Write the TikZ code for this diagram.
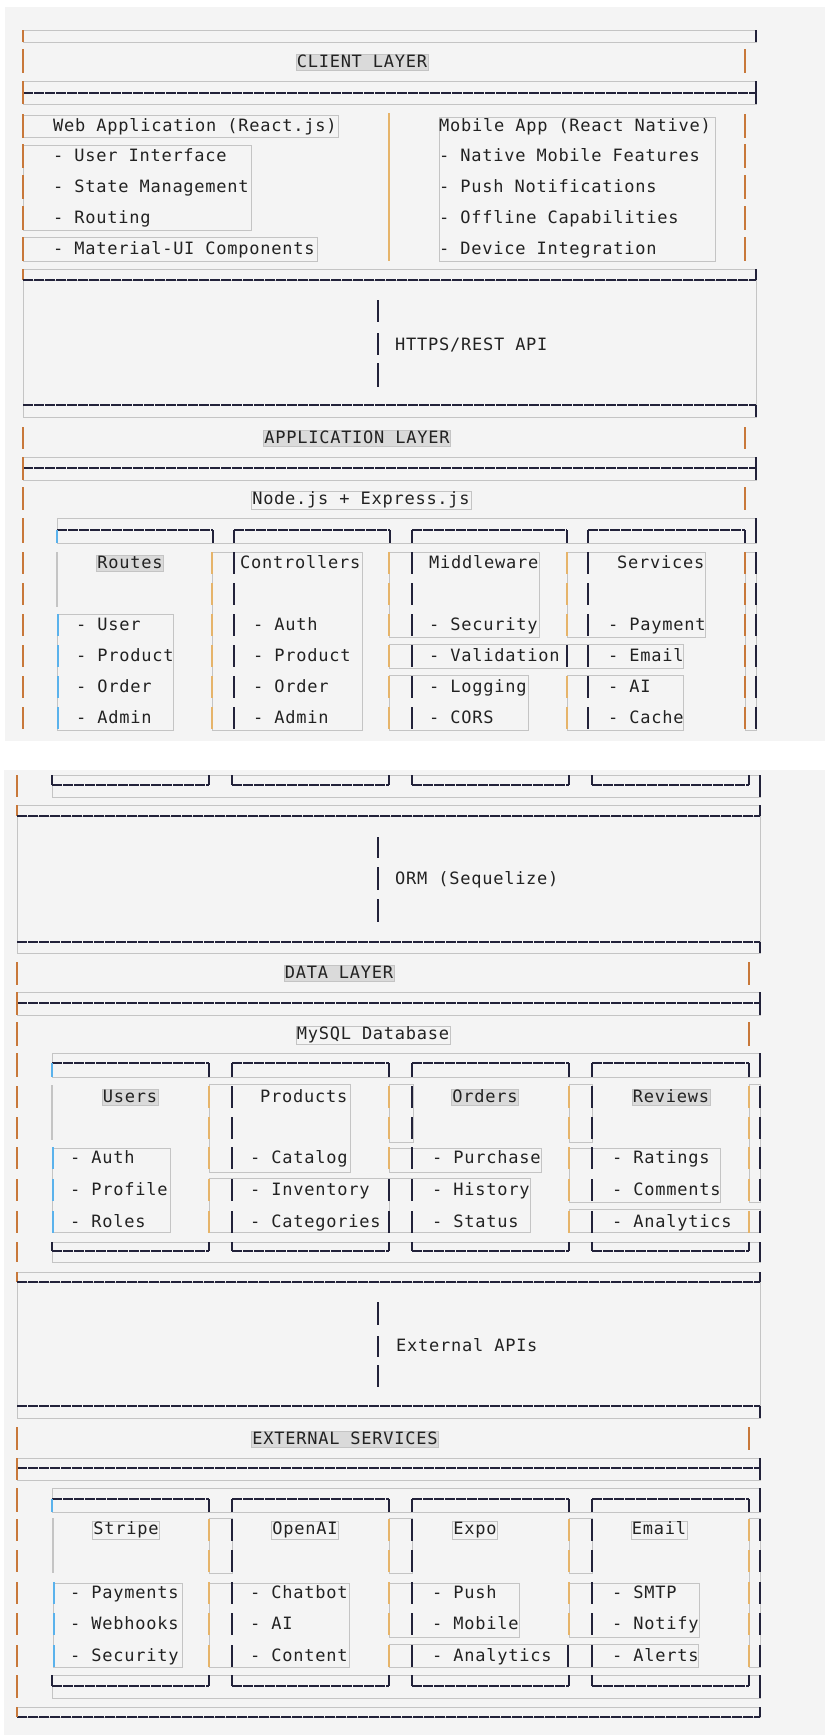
\documentclass[tikz,border=0pt]{standalone}
\usepackage{fontspec}
\setmonofont[LetterSpace=4.4]{DejaVu Sans Mono}
\usepackage{tikz}

\definecolor{panelgray}{HTML}{F4F4F4}
\definecolor{selgray}{HTML}{C4C4C4}
\definecolor{hlgray}{HTML}{DADADA}
\definecolor{rulenavy}{HTML}{22223A}
\definecolor{barorange}{HTML}{C8783A}
\definecolor{barlight}{HTML}{E6B46A}
\definecolor{barblue}{HTML}{5AB2EC}
\definecolor{inkgray}{HTML}{222222}

\begin{document}
\begin{tikzpicture}[x=1pt, y=-1pt]
\tikzstyle{panel} = [fill=panelgray]
\tikzstyle{sel} = [draw=selgray, line width=1pt]
\tikzstyle{rule} = [draw=rulenavy, line width=1.4pt, dash pattern=on 10.4pt off 0.6pt]
\tikzstyle{tick} = [draw=rulenavy, line width=1.6pt]
\tikzstyle{obar} = [draw=barorange, line width=2pt]
\tikzstyle{lbar} = [draw=barlight, line width=2pt]
\tikzstyle{bbar} = [draw=barblue, line width=1.6pt]
\tikzstyle{gbar} = [draw=selgray, line width=2pt]
\tikzstyle{txt} = [anchor=west, inner sep=0pt, text=inkgray, font=\ttfamily\fontsize{17}{20}\selectfont, text height=13pt, text depth=3pt]
\tikzstyle{head} = [txt, anchor=center, fill=hlgray, draw=selgray, inner sep=1pt, text height=12.5pt, text depth=2pt]
\tikzstyle{sub} = [txt, anchor=center, draw=selgray, inner sep=1pt, text height=12.5pt, text depth=3pt]

\useasboundingbox (0,0) rectangle (825,1735);
\path[panel] (5,7) rectangle (825,741);
\path[panel] (4,770) rectangle (825,1735);

% ---------- client layer
\draw[sel] (23,30) rectangle (756,42);
\draw[tick] (756,30) -- (756,42);
\draw[obar] (23,30) -- (23,42);
\draw[obar] (23,49) -- (23,73);
\draw[obar] (745,49) -- (745,73);
\node[head] (client) at (362,62) {CLIENT LAYER};
\draw[sel] (23,81) rectangle (756,104);
\draw[rule] (23,93) -- (756,93);
\draw[tick] (756,81) -- (756,104);
\draw[obar] (23,81) -- (23,104);

\draw[sel] (23,115) rectangle (338,137);
\draw[sel] (23,145) rectangle (251,230);
\draw[sel] (23,237) rectangle (317,261);
\draw[sel] (439,117) rectangle (715,261);
\foreach \y in {126,156,187,218,249} {
  \draw[obar] (23,{\y-12}) -- (23,{\y+12});
  \draw[obar] (745,{\y-12}) -- (745,{\y+12});
}
\draw[lbar] (389,113) -- (389,261);

\node[txt] (web) at (53,126) {Web Application (React.js)};
\foreach \y/\t/\n in {156/- User Interface/webui, 187/- State Management/webstate,
    218/- Routing/webroute, 249/- Material-UI Components/webmui}
  \node[txt] (\n) at (53,\y) {\t};
\node[txt] (mobile) at (439,126) {Mobile App (React Native)};
\foreach \y/\t/\n in {156/- Native Mobile Features/mobnative, 187/- Push Notifications/mobpush,
    218/- Offline Capabilities/moboffline, 249/- Device Integration/mobdevice}
  \node[txt] (\n) at (439,\y) {\t};

% ---------- https link
\draw[sel] (23,269) rectangle (756,280);
\draw[obar] (23,269) -- (23,280);
\draw[tick] (756,269) -- (756,280);
\draw[sel] (23,280) rectangle (756,417);
\draw[rule] (23,280) -- (756,280);
\draw[rule] (23,405) -- (756,405);
\draw[tick] (756,405) -- (756,417);
\draw[tick] (378,300) -- (378,322) (378,333) -- (378,355) (378,363) -- (378,387);
\node[txt] (https) at (395,345) {HTTPS/REST API};

% ---------- application layer
\draw[obar] (23,427) -- (23,449);
\draw[obar] (745,427) -- (745,449);
\node[head] (applayer) at (357,438) {APPLICATION LAYER};
\draw[sel] (23,457) rectangle (756,480);
\draw[rule] (23,468) -- (756,468);
\draw[tick] (756,457) -- (756,480);
\draw[obar] (23,457) -- (23,480);
\draw[obar] (23,487) -- (23,510);
\draw[obar] (745,487) -- (745,510);
\node[sub] (express) at (361,500) {Node.js + Express.js};

\draw[sel] (57,518) rectangle (756,543);
\draw[obar] (23,518) -- (23,543);
\draw[tick] (756,518) -- (756,543);
\foreach \l/\r in {57/213,234/390,412/567,588/745} {
  \draw[rule] (\l,530) -- (\r,530);
  \draw[tick] (\l,530) -- (\l,543) (\r,530) -- (\r,543);
}
\draw[bbar] (57,530) -- (57,543);

\draw[sel] (57,614) rectangle (173,730);
\draw[sel] (212,552) rectangle (362,730);
\draw[sel] (389,552) rectangle (539,637);
\draw[sel] (389,644) rectangle (683,668);
\draw[sel] (389,675) rectangle (528,730);
\draw[sel] (567,552) rectangle (705,637);
\draw[sel] (567,675) rectangle (683,730);
\draw[sel] (745,552) rectangle (756,730);
\foreach \y in {563,594,625,656,687,718} {
  \draw[obar] (23,{\y-11}) -- (23,{\y+11});
  \draw[lbar] (212,{\y-11}) -- (212,{\y+11});
  \draw[lbar] (389,{\y-11}) -- (389,{\y+11});
  \draw[obar] (745,{\y-11}) -- (745,{\y+11});
  \draw[tick] (234,{\y-11}) -- (234,{\y+11});
  \draw[tick] (412,{\y-11}) -- (412,{\y+11});
  \draw[tick] (588,{\y-11}) -- (588,{\y+11});
  \draw[tick] (756,{\y-11}) -- (756,{\y+11});
}
\foreach \y in {563,594,625,687,718}
  \draw[lbar] (567,{\y-11}) -- (567,{\y+11});
\draw[tick] (567,645) -- (567,667);
\draw[gbar] (57,552) -- (57,607);
\foreach \y in {625,656,687,718}
  \draw[bbar] (58,{\y-11}) -- (58,{\y+11});

\node[head] (routes) at (130,563) {Routes};
\node[txt] (controllers) at (240,563) {Controllers};
\node[txt] (middleware) at (429,563) {Middleware};
\node[txt] (services) at (617,563) {Services};
\foreach \y/\t/\n in {625/- User/rtuser, 656/- Product/rtproduct, 687/- Order/rtorder, 718/- Admin/rtadmin}
  \node[txt] (\n) at (76,\y) {\t};
\foreach \y/\t/\n in {625/- Auth/ctauth, 656/- Product/ctproduct, 687/- Order/ctorder, 718/- Admin/ctadmin}
  \node[txt] (\n) at (253,\y) {\t};
\foreach \y/\t/\n in {625/- Security/mwsecurity, 656/- Validation/mwvalid, 687/- Logging/mwlog, 718/- CORS/mwcors}
  \node[txt] (\n) at (429,\y) {\t};
\foreach \y/\t/\n in {625/- Payment/svpay, 656/- Email/svemail, 687/- AI/svai, 718/- Cache/svcache}
  \node[txt] (\n) at (608,\y) {\t};

% ---------- second screen
\draw[sel] (52,775) rectangle (760,797);
\foreach \l/\r in {52/209,232/389,412/569,592/749} {
  \draw[rule] (\l,785) -- (\r,785);
  \draw[tick] (\l,775) -- (\l,785) (\r,775) -- (\r,785);
}
\draw[obar] (17,775) -- (17,797);
\draw[tick] (760,775) -- (760,797);
\draw[sel] (17,805) rectangle (760,816);
\draw[obar] (17,805) -- (17,816);
\draw[tick] (760,805) -- (760,816);

% ---------- orm link
\draw[sel] (17,816) rectangle (760,953);
\draw[rule] (17,816) -- (760,816);
\draw[rule] (17,942) -- (760,942);
\draw[tick] (760,942) -- (760,953);
\draw[tick] (378,837) -- (378,858) (378,867) -- (378,890) (378,899) -- (378,922);
\node[txt] (orm) at (395,879) {ORM (Sequelize)};

% ---------- data layer
\draw[obar] (17,962) -- (17,985);
\draw[obar] (749,962) -- (749,985);
\node[head] (datalayer) at (339,973) {DATA LAYER};
\draw[sel] (17,992) rectangle (760,1015);
\draw[rule] (17,1003) -- (760,1003);
\draw[tick] (760,992) -- (760,1015);
\draw[obar] (17,992) -- (17,1015);
\draw[obar] (17,1022) -- (17,1046);
\draw[obar] (749,1022) -- (749,1046);
\node[sub] (mysql) at (373,1035) {MySQL Database};

\draw[sel] (52,1053) rectangle (760,1077);
\draw[obar] (17,1053) -- (17,1077);
\draw[tick] (760,1053) -- (760,1077);
\foreach \l/\r in {52/209,232/389,412/569,592/749} {
  \draw[rule] (\l,1063) -- (\r,1063);
  \draw[tick] (\l,1063) -- (\l,1077) (\r,1063) -- (\r,1077);
}
\draw[bbar] (52,1063) -- (52,1077);

\draw[sel] (52,1148) rectangle (170,1232);
\draw[sel] (209,1084) rectangle (350,1172);
\draw[sel] (209,1178) rectangle (389,1232);
\draw[sel] (389,1084) rectangle (413,1142);
\draw[sel] (389,1148) rectangle (541,1172);
\draw[sel] (389,1178) rectangle (530,1232);
\draw[sel] (569,1084) rectangle (592,1142);
\draw[sel] (569,1148) rectangle (720,1202);
\draw[sel] (569,1209) rectangle (760,1232);
\draw[sel] (749,1084) rectangle (760,1202);
\foreach \y in {1097,1128,1158,1190,1222} {
  \draw[obar] (17,{\y-11}) -- (17,{\y+11});
  \draw[lbar] (209,{\y-11}) -- (209,{\y+11});
  \draw[lbar] (569,{\y-11}) -- (569,{\y+11});
  \draw[lbar] (749,{\y-11}) -- (749,{\y+11});
  \draw[tick] (232,{\y-11}) -- (232,{\y+11});
  \draw[tick] (412,{\y-11}) -- (412,{\y+11});
  \draw[tick] (592,{\y-11}) -- (592,{\y+11});
  \draw[tick] (760,{\y-11}) -- (760,{\y+11});
}
\foreach \y in {1097,1128,1158}
  \draw[lbar] (389,{\y-11}) -- (389,{\y+11});
\foreach \y in {1190,1222}
  \draw[tick] (389,{\y-11}) -- (389,{\y+11});
\draw[gbar] (52,1085) -- (52,1140);
\foreach \y in {1158,1190,1222}
  \draw[bbar] (53,{\y-11}) -- (53,{\y+11});

\node[head] (users) at (130,1097) {Users};
\node[txt] (products) at (260,1097) {Products};
\node[head] (orders) at (485,1097) {Orders};
\node[head] (reviews) at (671,1097) {Reviews};
\foreach \y/\t/\n in {1158/- Auth/usauth, 1190/- Profile/usprofile, 1222/- Roles/usroles}
  \node[txt] (\n) at (70,\y) {\t};
\foreach \y/\t/\n in {1158/- Catalog/prcatalog, 1190/- Inventory/prinventory, 1222/- Categories/prcategories}
  \node[txt] (\n) at (250,\y) {\t};
\foreach \y/\t/\n in {1158/- Purchase/orpurchase, 1190/- History/orhistory, 1222/- Status/orstatus}
  \node[txt] (\n) at (432,\y) {\t};
\foreach \y/\t/\n in {1158/- Ratings/rvratings, 1190/- Comments/rvcomments, 1222/- Analytics/rvanalytics}
  \node[txt] (\n) at (612,\y) {\t};

\draw[sel] (52,1242) rectangle (760,1262);
\foreach \l/\r in {52/209,232/389,412/569,592/749} {
  \draw[rule] (\l,1251) -- (\r,1251);
  \draw[tick] (\l,1242) -- (\l,1251) (\r,1242) -- (\r,1251);
}
\draw[obar] (17,1242) -- (17,1262);
\draw[tick] (760,1242) -- (760,1262);
\draw[sel] (17,1272) rectangle (760,1282);
\draw[obar] (17,1272) -- (17,1282);
\draw[tick] (760,1272) -- (760,1282);

% ---------- external apis link
\draw[sel] (17,1282) rectangle (760,1418);
\draw[rule] (17,1282) -- (760,1282);
\draw[rule] (17,1406) -- (760,1406);
\draw[tick] (760,1406) -- (760,1418);
\draw[tick] (378,1302) -- (378,1325) (378,1336) -- (378,1357) (378,1365) -- (378,1387);
\node[txt] (extapi) at (396,1346) {External APIs};

% ---------- external services
\draw[obar] (17,1427) -- (17,1450);
\draw[obar] (749,1427) -- (749,1450);
\node[head] (extservices) at (345,1439) {EXTERNAL SERVICES};
\draw[sel] (17,1458) rectangle (760,1480);
\draw[rule] (17,1468) -- (760,1468);
\draw[tick] (760,1458) -- (760,1480);
\draw[obar] (17,1458) -- (17,1480);

\draw[sel] (52,1488) rectangle (760,1512);
\draw[obar] (17,1488) -- (17,1512);
\draw[tick] (760,1488) -- (760,1512);
\foreach \l/\r in {52/209,232/389,412/569,592/749} {
  \draw[rule] (\l,1499) -- (\r,1499);
  \draw[tick] (\l,1499) -- (\l,1512) (\r,1499) -- (\r,1512);
}
\draw[bbar] (52,1499) -- (52,1512);

\draw[sel] (209,1518) rectangle (232,1573);
\draw[sel] (389,1518) rectangle (412,1573);
\draw[sel] (569,1518) rectangle (592,1573);
\draw[sel] (53,1583) rectangle (182,1667);
\draw[sel] (209,1583) rectangle (349,1667);
\draw[sel] (389,1583) rectangle (519,1637);
\draw[sel] (389,1644) rectangle (698,1667);
\draw[sel] (569,1583) rectangle (699,1637);
\draw[sel] (749,1518) rectangle (760,1667);
\foreach \y in {1530,1561,1593,1624,1656} {
  \draw[obar] (17,{\y-11}) -- (17,{\y+11});
  \draw[lbar] (209,{\y-11}) -- (209,{\y+11});
  \draw[lbar] (389,{\y-11}) -- (389,{\y+11});
  \draw[lbar] (749,{\y-11}) -- (749,{\y+11});
  \draw[tick] (232,{\y-11}) -- (232,{\y+11});
  \draw[tick] (412,{\y-11}) -- (412,{\y+11});
  \draw[tick] (592,{\y-11}) -- (592,{\y+11});
  \draw[tick] (760,{\y-11}) -- (760,{\y+11});
}
\foreach \y in {1530,1561,1593,1624}
  \draw[lbar] (569,{\y-11}) -- (569,{\y+11});
\draw[tick] (568,1645) -- (568,1667);
\draw[gbar] (53,1518) -- (53,1573);
\foreach \y in {1593,1624,1656}
  \draw[bbar] (54,{\y-11}) -- (54,{\y+11});

\node[sub] (stripe) at (126,1530) {Stripe};
\node[sub] (openai) at (305,1530) {OpenAI};
\node[sub] (expo) at (475,1530) {Expo};
\node[sub] (email) at (659,1530) {Email};
\foreach \y/\t/\n in {1593/- Payments/stpay, 1624/- Webhooks/sthooks, 1656/- Security/stsecurity}
  \node[txt] (\n) at (70,\y) {\t};
\foreach \y/\t/\n in {1593/- Chatbot/oachat, 1624/- AI/oaai, 1656/- Content/oacontent}
  \node[txt] (\n) at (250,\y) {\t};
\foreach \y/\t/\n in {1593/- Push/expush, 1624/- Mobile/exmobile, 1656/- Analytics/exanalytics}
  \node[txt] (\n) at (432,\y) {\t};
\foreach \y/\t/\n in {1593/- SMTP/emsmtp, 1624/- Notify/emnotify, 1656/- Alerts/emalerts}
  \node[txt] (\n) at (612,\y) {\t};

\draw[sel] (52,1675) rectangle (760,1698);
\foreach \l/\r in {52/209,232/389,412/569,592/749} {
  \draw[rule] (\l,1686) -- (\r,1686);
  \draw[tick] (\l,1675) -- (\l,1686) (\r,1675) -- (\r,1686);
}
\draw[obar] (17,1675) -- (17,1698);
\draw[tick] (760,1675) -- (760,1698);
\draw[sel] (17,1707) rectangle (760,1717);
\draw[rule] (17,1717) -- (760,1717);
\draw[tick] (760,1707) -- (760,1717);
\draw[obar] (17,1707) -- (17,1717);
\end{tikzpicture}
\end{document}
